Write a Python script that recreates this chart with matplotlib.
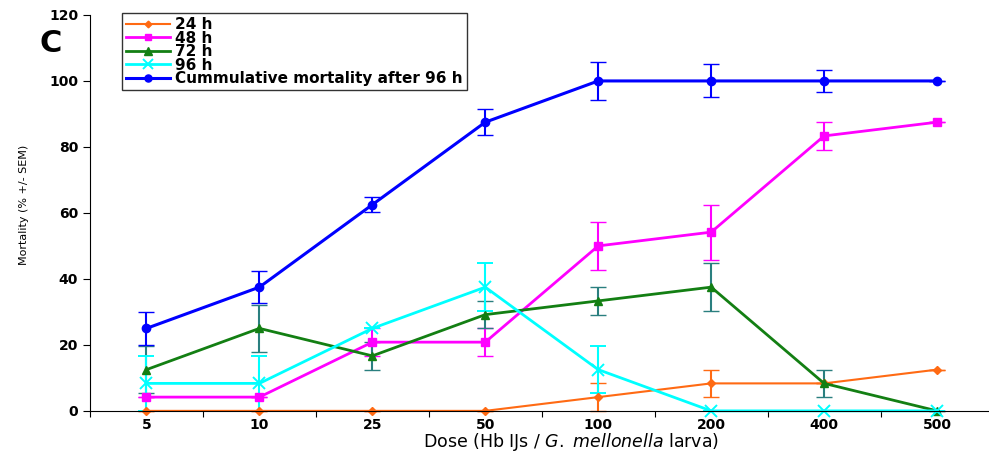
import numpy as np
import matplotlib
matplotlib.use('Agg')
import matplotlib.pyplot as plt
from matplotlib.lines import Line2D

plt.rcParams['font.family'] = ['DejaVu Sans']
plt.rcParams['mathtext.fontset'] = 'dejavusans'

doses = ['5', '10', '25', '50', '100', '200', '400', '500']

m24 = [0, 0, 0, 0, 4.17, 8.33, 8.33, 12.5]
e24 = [0, 0, 0, 0, 4.17, 4.17, 0, 0]
m48 = [4.17, 4.17, 20.83, 20.83, 50.0, 54.17, 83.33, 87.5]
e48 = [0, 0, 4.17, 4.17, 7.2, 8.33, 4.17, 0]
m72 = [12.5, 25.0, 16.67, 29.17, 33.33, 37.5, 8.33, 0]
e72 = [7.2, 7.2, 4.17, 4.17, 4.17, 7.2, 4.17, 0]
m96 = [8.33, 8.33, 25.0, 37.5, 12.5, 0, 0, 0]
e96 = [8.33, 8.33, 0, 7.2, 7.2, 0, 0, 0]
mcum = [25.0, 37.5, 62.5, 87.5, 100, 100, 100, 100]
ecum = [5.0, 4.8, 2.2, 4.0, 5.8, 5.0, 3.3, 0]

series = [
    ('24 h', m24, e24, '#ff6a13', '#ff6a13', 'D', 4, 1.5),
    ('48 h', m48, e48, '#ff00ff', '#ff00ff', 's', 5.5, 2.0),
    ('72 h', m72, e72, '#137f13', '#2a7f7f', '^', 6, 2.0),
    ('96 h', m96, e96, '#00ffff', '#00ffff', 'x', 8, 2.0),
    ('Cummulative mortality after 96 h', mcum, ecum, '#0000ff', '#0000ff', 'o', 6, 2.2),
]

x = np.arange(len(doses))
fig = plt.figure(figsize=(9.89, 4.53), dpi=100)
ax = fig.add_axes([0.091, 0.093, 0.909, 0.874])

handles = []
for lab, m, e, c, ec, mk, ms, lw in series:
    mew = 1.4 if mk == 'x' else 1
    ax.errorbar(x, m, yerr=e, color=c, ecolor=ec, marker=mk, markersize=ms,
                linewidth=lw, elinewidth=1.5, capsize=6, capthick=1.5,
                markeredgewidth=mew, clip_on=False)
    handles.append(Line2D([], [], color=c, marker=mk, markersize=ms * 0.85,
                          linewidth=lw, markeredgewidth=mew, label=lab))

ax.set_ylim(0, 120)
ax.set_yticks(range(0, 121, 20))
ax.set_xlim(-0.5, 7.46)
ax.set_xticks(np.arange(-0.5, 7.5, 1))
ax.set_xticklabels([])
ax.set_xticks(x, minor=True)
ax.set_xticklabels(doses, minor=True)
ax.tick_params(axis='x', which='minor', length=0, pad=5)
ax.tick_params(axis='x', which='major', length=4, direction='out')
ax.tick_params(axis='y', length=5, direction='out')
for lbl in ax.get_xticklabels(minor=True) + ax.get_yticklabels():
    lbl.set_fontweight('bold')
    lbl.set_fontsize(10)

ax.spines['top'].set_visible(False)
ax.spines['right'].set_visible(False)

ax.set_xlabel(r'Dose (Hb IJs / $\it{G.\ mellonella}$ larva)', fontsize=12.5)
ax.xaxis.set_label_coords(0.535, -0.05)
ax.set_ylabel('Mortality (% +/- SEM)', fontsize=8)
ax.yaxis.set_label_coords(-0.068, 0.52)

fig.text(0.04, 0.903, 'C', fontsize=22, fontweight='bold', va='center')

leg = ax.legend(handles=handles, loc='upper left', bbox_to_anchor=(0.036, 1.004),
                frameon=True, fancybox=False, edgecolor='black',
                prop={'weight': 'bold', 'size': 11}, handlelength=2.9,
                labelspacing=-0.1, borderpad=0.25, handletextpad=0.3,
                borderaxespad=0)
leg.get_frame().set_linewidth(1.0)

fig.savefig('out.png', dpi=100)
